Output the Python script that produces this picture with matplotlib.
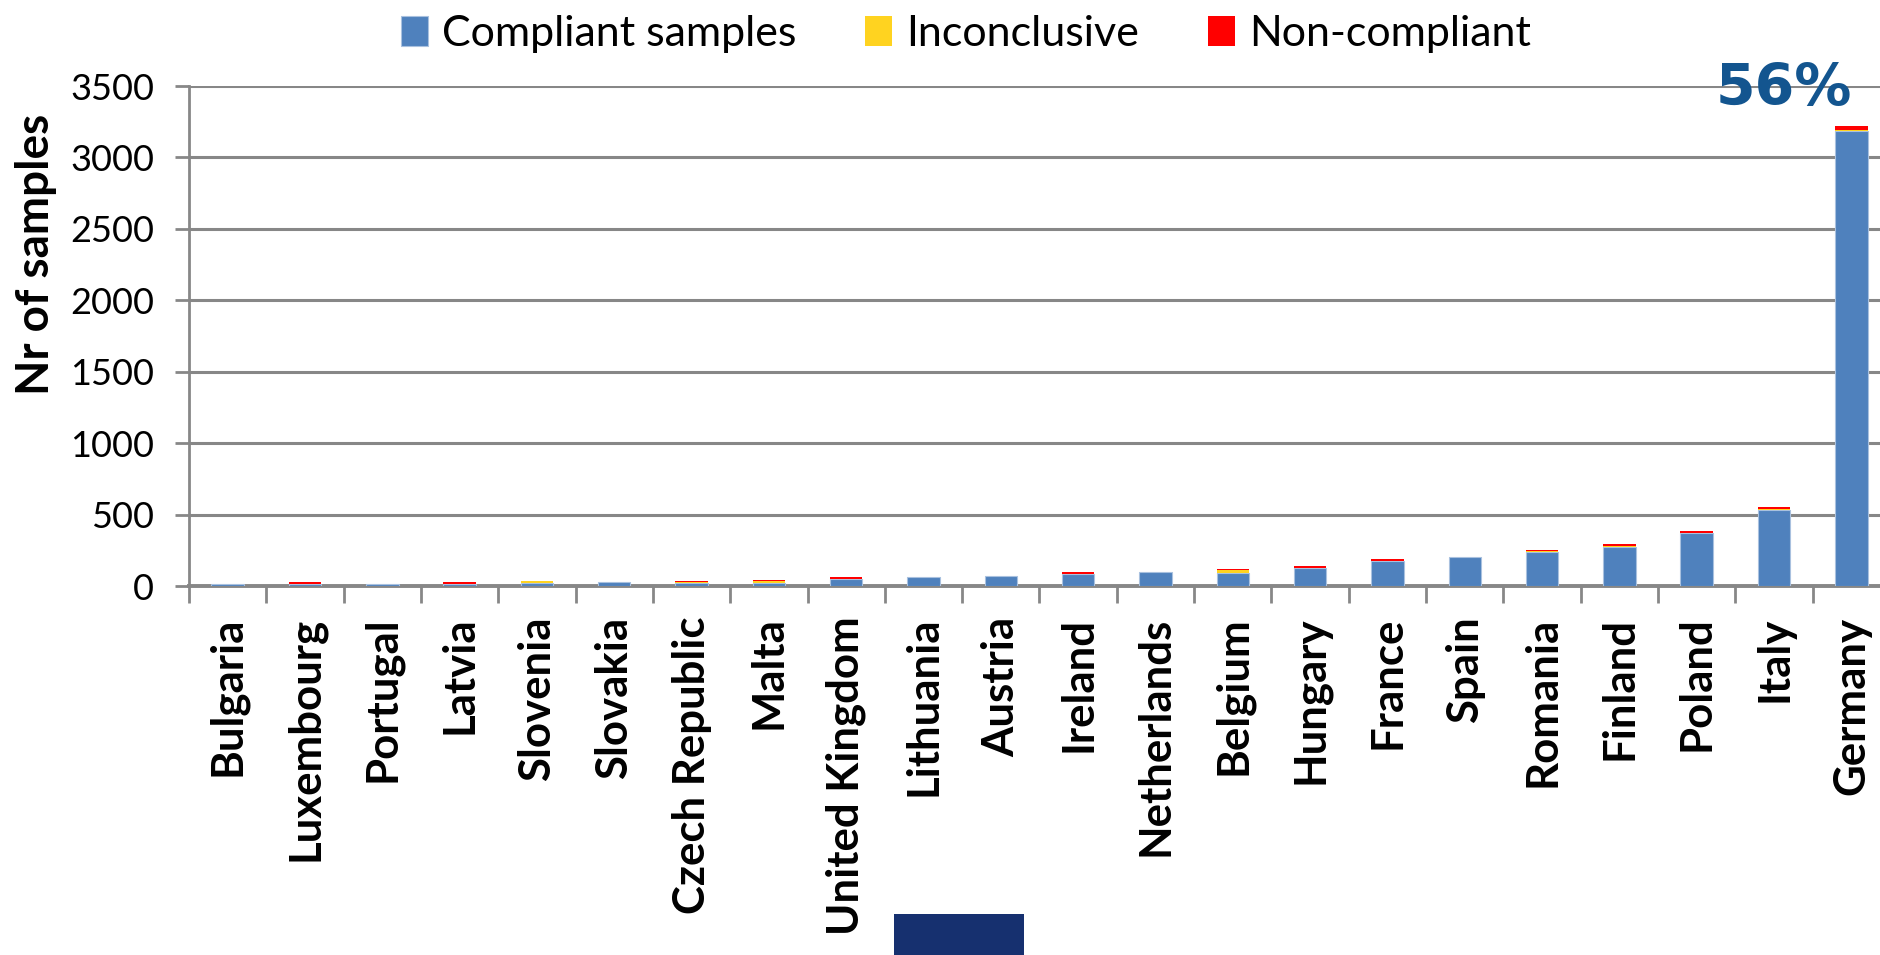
import matplotlib
matplotlib.use("Agg")
import matplotlib.pyplot as plt
from matplotlib.patches import Rectangle
import numpy as np

countries = ["Bulgaria", "Luxembourg", "Portugal", "Latvia", "Slovenia", "Slovakia",
             "Czech Republic", "Malta", "United Kingdom", "Lithuania", "Austria", "Ireland",
             "Netherlands", "Belgium", "Hungary", "France", "Spain", "Romania", "Finland",
             "Poland", "Italy", "Germany"]
compliant = [14, 16, 14, 16, 23, 26, 24, 24, 52, 60, 67, 87, 98, 94, 128, 176, 201, 237, 273, 374, 533, 3182]
inconclusive = [0, 0, 0, 0, 9, 0, 6, 8, 0, 0, 0, 0, 0, 18, 0, 0, 0, 10, 10, 0, 9, 9]
non_compliant = [0, 9, 0, 9, 0, 0, 8, 8, 10, 0, 0, 10, 0, 10, 10, 10, 0, 8, 8, 10, 10, 28]
yticks = [0, 500, 1000, 1500, 2000, 2500, 3000, 3500]

blue = "#4F81BD"
yellow = "#FFD320"
red = "#FF0000"
grey = "#878787"

W, H = 1881, 955
fig = plt.figure(figsize=(W / 100, H / 100), dpi=100)
# axes box in pixels: left axis x=189, right end x=1890, y 0 at 586, 3500 at 86
ax = fig.add_axes([189 / W, 1 - 586 / H, 1701 / W, 500 / H])

x = np.arange(len(countries))
comp = np.array(compliant)
inc = np.array(inconclusive)
non = np.array(non_compliant)
bw = 0.42
ax.bar(x, comp, bw, color=blue, edgecolor="#A9C1DF", linewidth=0.8, label="Compliant samples", zorder=3)
ax.bar(x, inc, bw, bottom=comp, color=yellow, linewidth=0, label="Inconclusive", zorder=3)
ax.bar(x, non, bw, bottom=comp + inc, color=red, linewidth=0, label="Non-compliant", zorder=3)

ax.set_xlim(-0.5, len(countries) - 0.5)
ax.set_ylim(0, 3500)
ax.set_yticks(yticks)
ax.set_yticklabels([str(v) for v in yticks], fontfamily="Lato", fontsize=26)
ax.yaxis.grid(True, color=grey, linewidth=2.2, zorder=0)
ax.set_axisbelow(True)
ax.tick_params(axis="y", length=10, width=2, color=grey, pad=15)

ax.set_xticks(x)
ax.set_xticklabels(countries, rotation=90, fontfamily="Lato", fontweight="bold", fontsize=31.5)
ax.set_xticks(np.arange(-0.5, len(countries), 1.0), minor=True)
ax.tick_params(axis="x", which="major", length=0, pad=22)
ax.tick_params(axis="x", which="minor", length=12, width=2, color=grey)

for s in ["top", "right"]:
    ax.spines[s].set_visible(False)
ax.spines["left"].set_color(grey)
ax.spines["left"].set_linewidth(2)
ax.spines["bottom"].set_color(grey)
ax.spines["bottom"].set_linewidth(2.8)

fig.text(36 / W, 1 - 254 / H, "Nr of samples", rotation=90, ha="center", va="center",
         fontfamily="Lato", fontweight="bold", fontsize=33)

fig.legend(loc="center", bbox_to_anchor=(966 / W, 1 - 34 / H), ncol=3, frameon=False,
           prop={"family": "Lato", "size": 31}, handlelength=0.62, handleheight=0.68,
           handletextpad=0.33, columnspacing=1.6)

fig.text(1784 / W, 1 - 90 / H, "56%", ha="center", va="center", fontfamily="DejaVu Sans",
         fontweight="bold", fontsize=41, color="#13558F")

fig.patches.append(Rectangle((894 / W, 0), 130 / W, 41 / H, transform=fig.transFigure,
                             facecolor="#16306F", edgecolor="none"))

fig.savefig("out.png", dpi=100)
